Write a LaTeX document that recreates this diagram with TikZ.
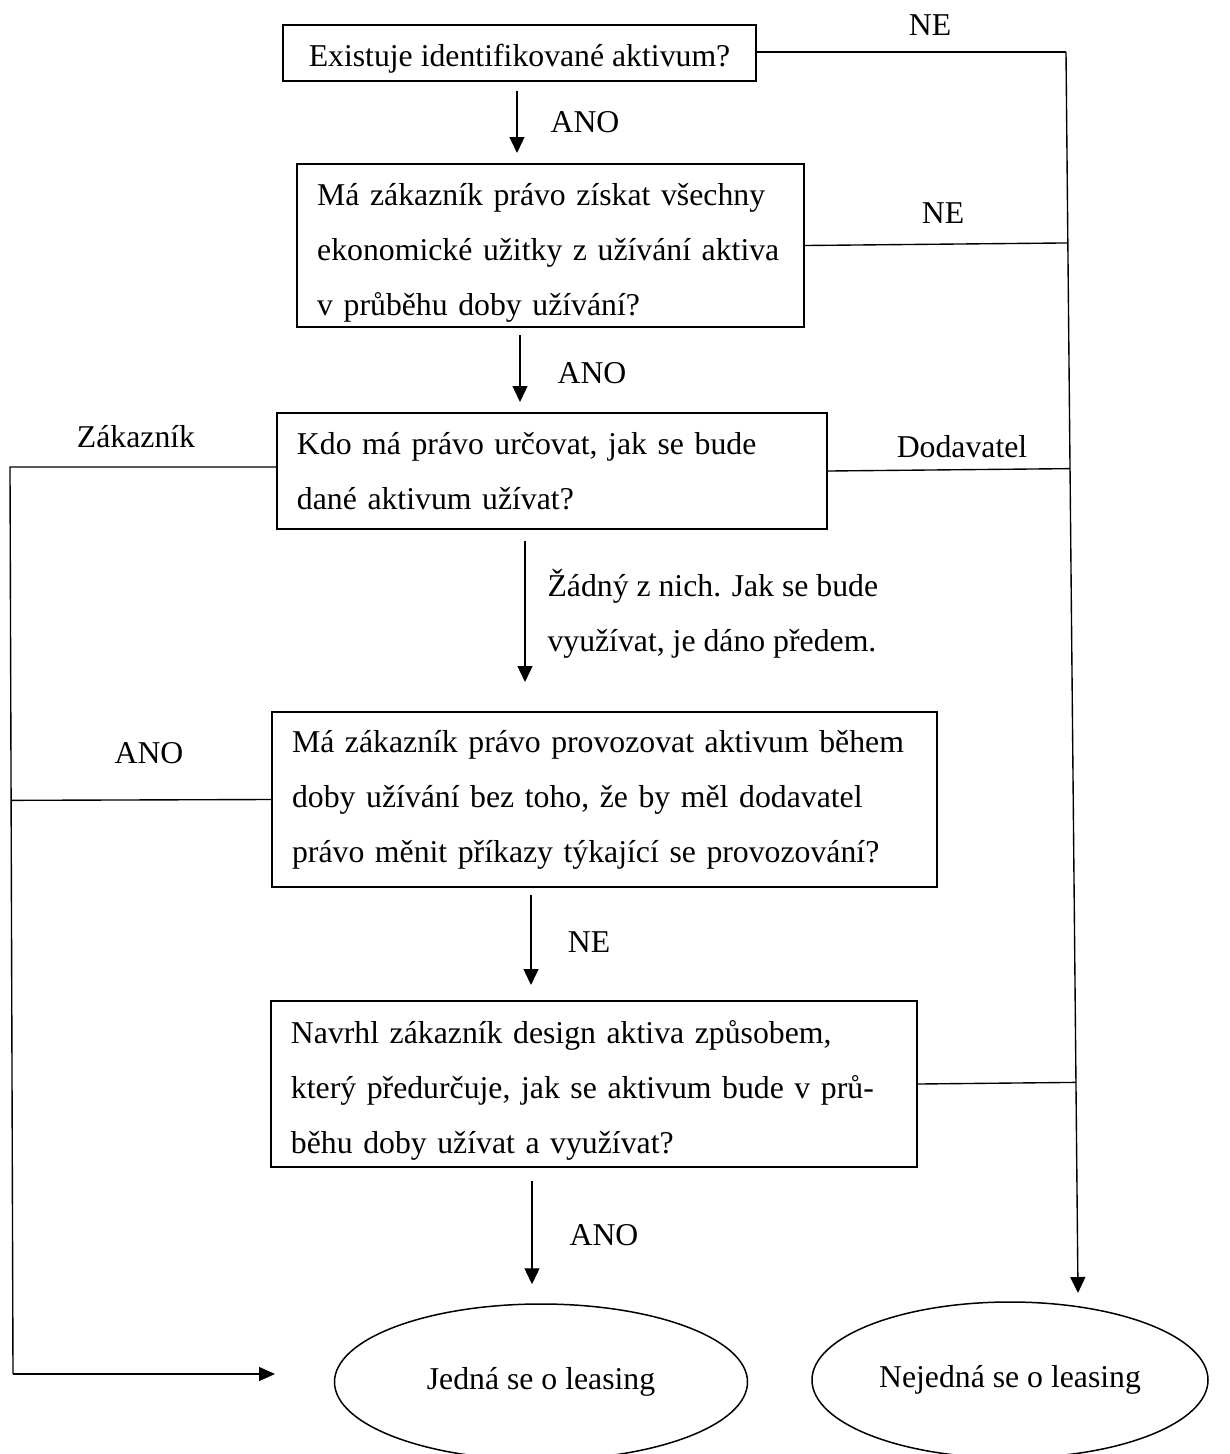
\documentclass[tikz,border=0pt]{standalone}
\usepackage{fontspec}
\setmainfont{Liberation Serif}
\usetikzlibrary{shapes.geometric,arrows.meta,calc}
\tikzset{
  txt/.style={font=\fontsize{12.7}{22}\selectfont},
  qbox/.style={txt, draw, line width=0.8pt, inner xsep=8pt, inner ysep=2pt, align=left},
  lbl/.style={txt, inner sep=0pt},
  conn/.style={line width=0.55pt},
  arr/.style={conn, -{Triangle[length=6.4pt,width=6pt]}},
  endell/.style={txt, draw, ellipse, line width=0.6pt, inner sep=0pt}
}
\begin{document}
\begin{tikzpicture}[x=0.4pt,y=-0.4pt]
\useasboundingbox (0,0) rectangle (1230,1454);

% question boxes
\node[qbox, align=center, inner xsep=0pt, minimum width=189.2pt, minimum height=22.4pt] (b1) at (519.5,53) {\rule{0pt}{13.5pt}Existuje identifikované aktivum?};
\node[qbox, inner ysep=1pt, text width=186.6pt, minimum height=65.2pt] (b2) at (550.5,245.5)
  {\rule{0pt}{14.6pt}Má zákazník právo získat všechny\\ekonomické užitky z užívání aktiva\\v průběhu doby užívání?};
\node[qbox, text width=204pt, minimum height=46.4pt] (b3) at (552,471)
  {Kdo má právo určovat, jak se bude\\dané aktivum užívat?};
\node[qbox, text width=250pt, minimum height=70pt] (b4) at (604.6,799.5)
  {Má zákazník právo provozovat aktivum během\\doby užívání bez toho, že by měl dodavatel\\právo měnit příkazy týkající se provozování?};
\node[qbox, text width=242.4pt, minimum height=66.4pt] (b5) at (594,1084)
  {\rule{0pt}{14pt}Navrhl zákazník design aktiva způsobem,\\který předurčuje, jak se aktivum bude v prů-\\běhu doby užívat a využívat?};

% outcomes
\node[endell, minimum width=165.2pt, minimum height=62.4pt] (e1) at (541,1382) {Jedná se o leasing};
\node[endell, minimum width=158.4pt, minimum height=62.4pt] (e2) at (1010,1380) {Nejedná se o leasing};

% helper coordinates
\coordinate (A1) at (517,0);
\coordinate (A2) at (520,0);
\coordinate (A3) at (525,0);
\coordinate (A4) at (531,0);
\coordinate (A5) at (532,0);
\coordinate (Rtop) at (1066,52);
\coordinate (Rend) at (1078,1293);
\coordinate (Ltop) at (10,467);
\coordinate (Lbot) at (13,1374);
\coordinate (Lend) at (275,1374);

% main downward arrows
\draw[arr, shorten <=3.6pt, shorten >=4pt] (b1.south -| A1) -- (b2.north -| A1);
\draw[arr, shorten <=2.8pt, shorten >=4pt] (b2.south -| A2) -- (b3.north -| A2);
\draw[arr, shorten <=4.4pt, shorten >=11.6pt] (b3.south -| A3) -- (b4.north -| A3);
\draw[arr, shorten <=2.8pt, shorten >=6pt] (b4.south -| A4) -- (b5.north -| A4);
\draw[arr, shorten <=5.2pt, shorten >=7.6pt] (b5.south -| A5) -- (e1.north -| A5);

% right collector (NE / Dodavatel)
\draw[conn] (b1.east |- Rtop) -- (Rtop);
\draw[arr] (Rtop) -- (Rend);
\draw[conn] (b2.east) -- ($(Rtop)!(b2.east)!(Rend)$);
\draw[conn] (b3.east) -- ($(Rtop)!(b3.east)!(Rend)$);
\draw[conn] (b5.east) -- ($(Rtop)!(b5.east)!(Rend)$);

% left collector (Zákazník / ANO)
\draw[conn] (b3.west |- Ltop) -- (Ltop) -- (Lbot);
\draw[arr, -{Triangle[length=6.4pt,width=5.6pt]}] (Lbot) -- (Lend);
\draw[conn] (b4.west) -- ($(Ltop)!(b4.west)!(Lbot)$);

% labels
\node[lbl] (l1) at (930,25) {NE};
\node[lbl] (l2) at (585,122) {ANO};
\node[lbl] (l3) at (943,213) {NE};
\node[lbl] (l4) at (592,373) {ANO};
\node[lbl] (l5) at (136,437) {Zákazník};
\node[lbl] (l6) at (962,447) {Dodavatel};
\node[lbl, anchor=west, align=left] (l7) at (547,614) {Žádný z nich. Jak se bude\\využívat, je dáno předem.};
\node[lbl] (l8) at (149,753) {ANO};
\node[lbl] (l9) at (589,942) {NE};
\node[lbl] (l10) at (604,1235) {ANO};
\end{tikzpicture}
\end{document}
